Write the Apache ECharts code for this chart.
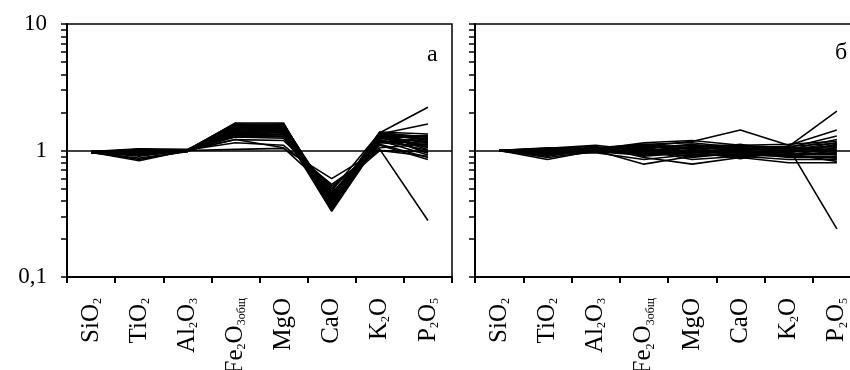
<!DOCTYPE html>
<html>
<head>
<meta charset="utf-8">
<script src="https://cdn.jsdelivr.net/npm/echarts@6/dist/echarts.min.js"></script>
<style>
  html, body { margin: 0; padding: 0; overflow: hidden; background: #fff; }
  #chart { width: 861px; height: 370px; }
</style>
</head>
<body>
<div id="chart"></div>
<script>
// оксиды (ось X)
const categories = ["SiO2", "TiO2", "Al2O3", "Fe2O3общ", "MgO", "CaO", "K2O", "P2O5"];

// деления логарифмической оси
const yTicks = [0.1, 0.2, 0.3, 0.4, 0.5, 0.6, 0.7, 0.8, 0.9, 1, 2, 3, 4, 5, 6, 7, 8, 9, 10];

// панель «а»
const panelA = [
  [0.97, 1.02, 1.00, 1.65, 1.65, 0.36, 1.38, 2.20],
  [0.98, 1.00, 0.99, 1.62, 1.62, 0.38, 1.35, 1.62],
  [0.97, 0.98, 1.00, 1.60, 1.58, 0.40, 1.40, 1.35],
  [0.96, 1.01, 1.01, 1.57, 1.55, 0.34, 1.32, 1.30],
  [0.98, 0.97, 0.99, 1.55, 1.60, 0.42, 1.30, 1.25],
  [0.97, 0.95, 0.98, 1.52, 1.52, 0.37, 1.36, 1.20],
  [0.96, 0.99, 1.00, 1.50, 1.48, 0.44, 1.28, 1.15],
  [0.98, 1.03, 1.02, 1.48, 1.50, 0.35, 1.25, 1.10],
  [0.97, 0.92, 0.99, 1.45, 1.45, 0.39, 1.34, 1.05],
  [0.97, 0.96, 1.00, 1.43, 1.42, 0.46, 1.22, 1.00],
  [0.96, 1.00, 0.98, 1.40, 1.40, 0.41, 1.30, 0.95],
  [0.98, 0.94, 1.01, 1.38, 1.38, 0.33, 1.20, 0.92],
  [0.97, 0.98, 0.99, 1.36, 1.35, 0.48, 1.38, 1.28],
  [0.97, 0.90, 1.00, 1.34, 1.33, 0.43, 1.26, 1.18],
  [0.96, 0.87, 0.98, 1.32, 1.30, 0.38, 1.15, 1.08],
  [0.98, 0.85, 0.99, 1.30, 1.28, 0.50, 1.12, 0.88],
  [0.97, 0.83, 1.00, 1.28, 1.25, 0.45, 1.10, 0.85],
  [0.97, 0.99, 1.00, 1.22, 1.20, 0.52, 1.05, 1.12],
  [0.98, 1.01, 1.01, 1.15, 1.10, 0.54, 1.00, 0.98],
  [0.97, 0.97, 1.00, 1.02, 1.04, 0.60, 1.02, 0.28],
  [0.97, 1.00, 1.00, 1.22, 1.05, 0.47, 1.00, 0.90],
  [0.98, 0.96, 0.99, 1.58, 1.56, 0.36, 1.33, 1.02],
  [0.97, 0.99, 1.01, 1.62, 1.46, 0.34, 1.24, 1.32],
  [0.96, 1.02, 1.00, 1.47, 1.62, 0.40, 1.40, 1.22],
  [0.97, 0.93, 0.99, 1.53, 1.44, 0.37, 1.18, 1.14],
  [0.98, 0.97, 1.00, 1.41, 1.57, 0.42, 1.36, 1.06],
  [0.97, 1.01, 1.01, 1.64, 1.36, 0.35, 1.29, 0.96],
  [0.96, 0.95, 0.99, 1.35, 1.52, 0.39, 1.16, 1.26],
];

// панель «б»
const panelB = [
  [1.00, 1.02, 1.05, 1.12, 1.15, 1.05, 1.08, 2.05],
  [1.00, 0.98, 1.03, 1.08, 1.18, 1.45, 1.10, 1.45],
  [1.01, 1.00, 1.04, 1.05, 1.10, 1.10, 1.05, 1.30],
  [1.00, 0.95, 1.02, 1.00, 1.05, 1.08, 1.02, 1.22],
  [0.99, 0.92, 1.00, 0.95, 1.00, 1.02, 1.00, 1.15],
  [1.00, 0.88, 0.98, 0.92, 0.95, 0.98, 0.97, 1.10],
  [1.00, 0.85, 1.00, 0.78, 0.90, 0.95, 0.92, 1.05],
  [1.01, 1.03, 1.08, 0.88, 0.78, 0.88, 0.80, 0.80],
  [1.00, 0.97, 1.01, 1.12, 1.05, 0.92, 1.05, 0.24],
  [1.00, 1.04, 1.10, 1.00, 0.85, 0.90, 0.85, 0.85],
  [0.99, 1.00, 0.97, 0.98, 1.00, 1.00, 0.95, 0.95],
  [1.00, 0.93, 0.99, 1.06, 0.92, 0.92, 0.90, 0.90],
  [1.00, 1.05, 1.02, 1.15, 1.20, 1.10, 1.12, 1.18],
  [1.01, 0.96, 1.06, 0.90, 0.96, 1.04, 0.98, 1.00],
  [1.00, 0.99, 1.00, 1.02, 0.88, 0.96, 0.88, 0.88],
  [0.99, 1.01, 1.03, 0.96, 1.08, 1.06, 1.04, 1.08],
  [1.00, 0.94, 0.96, 0.85, 0.93, 0.90, 0.94, 0.82],
  [1.00, 1.02, 1.00, 1.10, 0.98, 0.86, 1.00, 1.02],
  [1.00, 0.90, 1.02, 0.93, 1.02, 1.12, 0.96, 1.12],
  [1.01, 0.98, 1.05, 1.04, 1.12, 1.00, 1.06, 0.92],
  [1.00, 0.97, 1.01, 0.97, 0.97, 0.94, 0.99, 0.97],
  [1.00, 1.01, 1.02, 1.08, 1.03, 1.07, 1.03, 1.05],
  [0.99, 0.95, 1.00, 0.94, 0.99, 0.97, 0.93, 0.93],
  [1.00, 1.03, 1.04, 1.01, 1.06, 1.02, 1.08, 1.14],
  [1.01, 0.99, 0.99, 0.96, 0.91, 0.94, 0.91, 0.87],
];

const font = "'Liberation Serif', 'DejaVu Serif', serif";

const chart = echarts.init(document.getElementById("chart"));

const makeX = (gridIndex) => ({
  type: "category",
  gridIndex,
  data: categories,
  boundaryGap: true,
  axisLine: { lineStyle: { color: "#000", width: 2 } },
  axisTick: { show: true, length: 6, lineStyle: { color: "#000", width: 2 } },
  axisLabel: {
    interval: 0,
    rotate: 90,
    margin: 21,
    color: "#000",
    fontFamily: font,
    fontSize: 25,
    // индексы — подстрочные
    formatter: (v) => v.replace(/(\d+|общ)/g, "{s|$1}"),
    rich: {
      s: { fontFamily: font, fontSize: 12, color: "#000", verticalAlign: "bottom" },
    },
  },
  splitLine: { show: false },
});

const makeY = (gridIndex, labels) => ({
  type: "log",
  logBase: 10,
  gridIndex,
  min: 0.1,
  max: 10,
  axisLine: { show: true, lineStyle: { color: "#000", width: 2 } },
  axisTick: { show: true, length: 6, customValues: yTicks, lineStyle: { color: "#000", width: 1.5 } },
  axisLabel: {
    show: labels,
    margin: 20,
    color: "#000",
    fontFamily: font,
    fontSize: 23,
    formatter: (v) => String(v).replace(".", ","),
  },
  splitLine: { show: false },
});

const makeSeries = (rows, idx) =>
  rows.map((row, i) => ({
    type: "line",
    xAxisIndex: idx,
    yAxisIndex: idx,
    data: row,
    symbol: "none",
    lineStyle: { color: "#000", width: 1.6 },
    markLine: i === 0 ? {
      silent: true,
      symbol: "none",
      label: { show: false },
      lineStyle: { color: "#000", width: 1.5, type: "solid" },
      data: [{ yAxis: 1 }],
    } : undefined,
  }));

const option = {
  animation: false,
  backgroundColor: "#fff",
  grid: [
    { left: 67, top: 24, width: 385, height: 253, outerBoundsMode: "none", show: true, borderColor: "#000", borderWidth: 1.5 },
    { left: 475, top: 24, width: 386, height: 253, outerBoundsMode: "none", show: true, borderColor: "#000", borderWidth: 1.5 },
  ],
  title: [
    { text: "а", left: 422, top: 38, textStyle: { fontFamily: font, fontSize: 24, fontWeight: "normal", color: "#000" } },
    { text: "б", left: 830, top: 36, textStyle: { fontFamily: font, fontSize: 24, fontWeight: "normal", color: "#000" } },
  ],
  xAxis: [makeX(0), makeX(1)],
  yAxis: [makeY(0, true), makeY(1, false)],
  series: [...makeSeries(panelA, 0), ...makeSeries(panelB, 1)],
};

chart.setOption(option);
</script>
</body>
</html>
